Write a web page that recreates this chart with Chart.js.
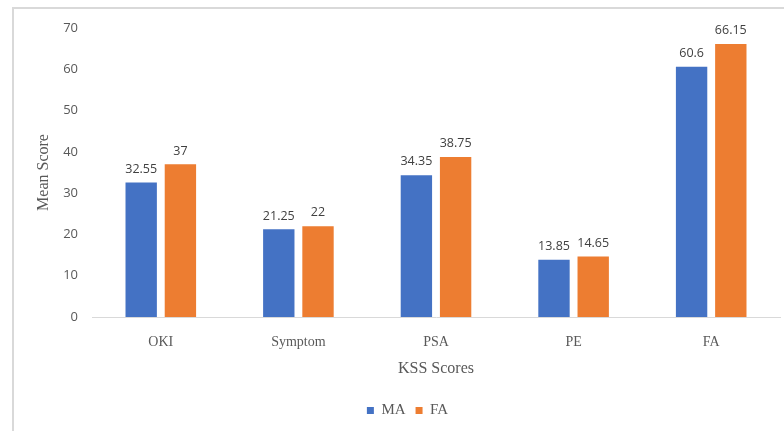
<!DOCTYPE html>
<html>
<head>
<meta charset="utf-8">
<script src="https://cdn.jsdelivr.net/npm/chart.js@4"></script>
<style>
  body { margin: 0; background: #fff; }
  #wrap { position: relative; width: 784px; height: 431px; }
</style>
</head>
<body>
<div id="wrap"><canvas id="theChart"></canvas></div>
<script>
const categories = ["OKI", "Symptom", "PSA", "PE", "FA"]
const maValues = [32.55, 21.25, 34.35, 13.85, 60.6]
const faValues = [37, 22, 38.75, 14.65, 66.15]
const yTicks = [0, 10, 20, 30, 40, 50, 60, 70]

const serif = "'Liberation Serif', 'Times New Roman', serif"
const sans = "'Open Sans', 'Liberation Sans', sans-serif"

// light frame at left/top like the cropped source
const frame = {
  id: "frame",
  beforeDraw(chart) {
    const c = chart.ctx
    c.save()
    c.strokeStyle = "#d9d9d9"
    c.lineWidth = 2
    c.beginPath()
    c.moveTo(13, chart.height)
    c.lineTo(13, 8)
    c.lineTo(chart.width, 8)
    c.stroke()
    c.restore()
  },
  // legend sits a little right of centre in the source
  afterLayout(chart) {
    chart.legend.left += 11
    chart.legend.right += 11
  }
}

// value labels on top of bars
const barLabels = {
  id: "barLabels",
  afterDatasetsDraw(chart) {
    const c = chart.ctx
    c.save()
    c.font = "12.5px " + sans
    c.fillStyle = "#404040"
    c.textAlign = "center"
    c.textBaseline = "bottom"
    chart.data.datasets.forEach((ds, i) => {
      chart.getDatasetMeta(i).data.forEach((bar, j) => {
        c.fillText(String(ds.data[j]), bar.x, bar.y - 7)
      })
    })
    c.restore()
  }
}

const ctx = document.getElementById("theChart")
new Chart(ctx, {
  type: "bar",
  data: {
    labels: categories,
    datasets: [
      { label: "MA", data: maValues, backgroundColor: "#4472C4", categoryPercentage: 0.57, barPercentage: 0.8 },
      { label: "FA", data: faValues, backgroundColor: "#ED7D31", categoryPercentage: 0.57, barPercentage: 0.8 }
    ]
  },
  options: {
    responsive: true,
    maintainAspectRatio: false,
    animation: false,
    layout: { padding: { left: 13, right: 4, top: 28, bottom: 3 } },
    plugins: {
      tooltip: { enabled: false },
      legend: {
        position: "bottom",
        labels: {
          boxWidth: 7, boxHeight: 7, padding: 10,
          color: "#595959",
          font: { family: serif, size: 15 }
        }
      }
    },
    scales: {
      x: {
        grid: { display: false },
        border: { color: "#d9d9d9", width: 1 },
        ticks: { color: "#595959", padding: 9, font: { family: serif, size: 14 } },
        title: { display: true, text: "KSS Scores", color: "#595959", font: { family: serif, size: 16 }, padding: { top: 0, bottom: 15 } },
        afterFit: s => { s.height = 76 }
      },
      y: {
        min: 0, max: 70,
        afterBuildTicks: s => { s.ticks = yTicks.map(v => ({ value: v })) },
        grid: { display: false },
        border: { display: false },
        ticks: { color: "#595959", padding: 6, font: { family: sans, size: 13 } },
        title: { display: true, text: "Mean Score", color: "#595959", font: { family: serif, size: 16 }, padding: { top: 21, bottom: 0 } },
        afterFit: s => { s.width = 79 }
      }
    }
  },
  plugins: [frame, barLabels]
})
</script>
</body>
</html>
